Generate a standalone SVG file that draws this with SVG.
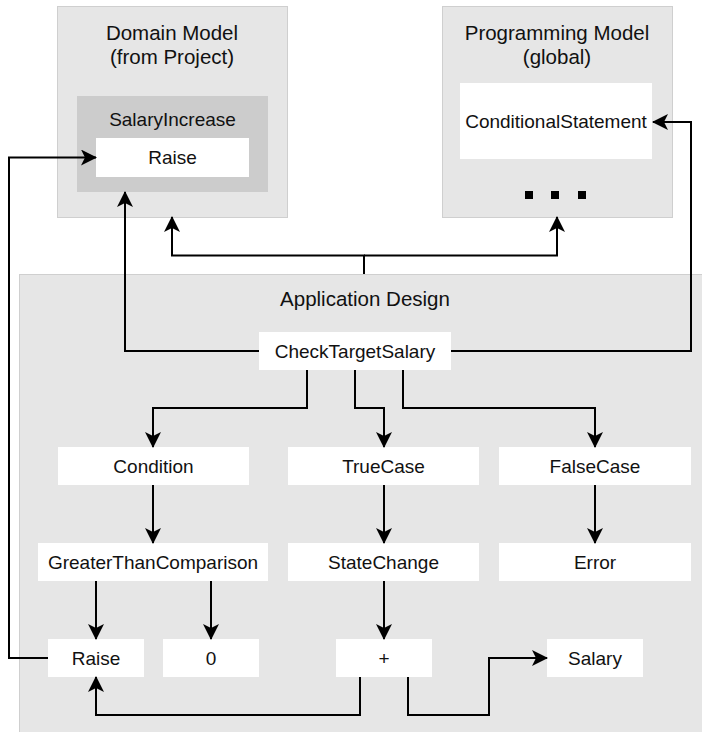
<svg xmlns="http://www.w3.org/2000/svg" width="702" height="732" viewBox="0 0 702 732">
<style>
.bg{fill:#ffffff}
.frame{fill:#e6e6e6;stroke:#cfcfcf;stroke-width:1}
.inner{fill:#cccccc}
.node{fill:#ffffff}
.t{font-family:"Liberation Sans",Arial,sans-serif;font-size:19px;fill:#111;text-anchor:middle}
.title{font-family:"Liberation Sans",Arial,sans-serif;font-size:20.5px;fill:#111;text-anchor:middle}
.edge{fill:none;stroke:#000;stroke-width:2}
</style>
<defs>
<marker id="arr" markerUnits="userSpaceOnUse" viewBox="0 0 16 16" refX="15" refY="8" markerWidth="16" markerHeight="16" orient="auto">
<path d="M0,0 L16,8 L0,16 L4,8 Z" fill="#000"/>
</marker>
</defs>
<rect class="bg" x="0" y="0" width="702" height="732"/>

<g id="domain-model">
<rect class="frame" x="57.5" y="6.5" width="230" height="211"/>
<text class="title" x="172" y="40">Domain Model</text>
<text class="title" x="172" y="64">(from Project)</text>
</g>
<g id="salary-increase">
<rect class="inner" x="77" y="96" width="191" height="96"/>
<text class="t" x="172.5" y="126">SalaryIncrease</text>
</g>
<g id="raise-domain">
<rect class="node" x="96" y="138" width="153" height="39"/>
<text class="t" x="172.5" y="164">Raise</text>
</g>

<g id="programming-model">
<rect class="frame" x="442.5" y="6.5" width="230" height="211"/>
<text class="title" x="557" y="40">Programming Model</text>
<text class="title" x="557" y="64">(global)</text>
<rect x="525" y="191" width="8" height="8" fill="#000"/>
<rect x="551" y="191" width="8" height="8" fill="#000"/>
<rect x="578" y="191" width="8" height="8" fill="#000"/>
</g>
<g id="conditional-statement">
<rect class="node" x="460" y="83" width="192" height="76"/>
<text class="t" x="556" y="128">ConditionalStatement</text>
</g>

<g id="application-design">
<rect class="frame" x="19.5" y="274.5" width="690" height="470"/>
<text class="title" x="365" y="306">Application Design</text>
</g>
<g id="check-target-salary">
<rect class="node" x="259" y="332" width="192" height="38"/>
<text class="t" x="355" y="358">CheckTargetSalary</text>
</g>
<g id="condition">
<rect class="node" x="58" y="447" width="191" height="38"/>
<text class="t" x="153.5" y="473">Condition</text>
</g>
<g id="true-case">
<rect class="node" x="288" y="447" width="191" height="38"/>
<text class="t" x="383.5" y="473">TrueCase</text>
</g>
<g id="false-case">
<rect class="node" x="499" y="447" width="192" height="38"/>
<text class="t" x="595" y="473">FalseCase</text>
</g>
<g id="greater-than-comparison">
<rect class="node" x="38" y="543" width="230" height="38"/>
<text class="t" x="153" y="569">GreaterThanComparison</text>
</g>
<g id="state-change">
<rect class="node" x="288" y="543" width="191" height="38"/>
<text class="t" x="383.5" y="569">StateChange</text>
</g>
<g id="error">
<rect class="node" x="499" y="543" width="192" height="38"/>
<text class="t" x="595" y="569">Error</text>
</g>
<g id="raise-app">
<rect class="node" x="48" y="639" width="96" height="38"/>
<text class="t" x="96" y="665">Raise</text>
</g>
<g id="zero">
<rect class="node" x="163" y="639" width="96" height="38"/>
<text class="t" x="211" y="665">0</text>
</g>
<g id="plus">
<rect class="node" x="336" y="639" width="96" height="38"/>
<text class="t" x="384" y="665">+</text>
</g>
<g id="salary">
<rect class="node" x="547" y="639" width="96" height="38"/>
<text class="t" x="595" y="665">Salary</text>
</g>

<g id="connectors">
<path class="edge" d="M364,274 V255.5 H172 V217" marker-end="url(#arr)"/>
<path class="edge" d="M364,255.5 H557 V217" marker-end="url(#arr)"/>
<path class="edge" d="M259,351 H125 V192" marker-end="url(#arr)"/>
<path class="edge" d="M451,351 H691 V122 H653" marker-end="url(#arr)"/>
<path class="edge" d="M307,370 V408 H153 V447" marker-end="url(#arr)"/>
<path class="edge" d="M355,370 V408 H384 V447" marker-end="url(#arr)"/>
<path class="edge" d="M403,370 V408 H595 V447" marker-end="url(#arr)"/>
<path class="edge" d="M153,485 V543" marker-end="url(#arr)"/>
<path class="edge" d="M384,485 V543" marker-end="url(#arr)"/>
<path class="edge" d="M595,485 V543" marker-end="url(#arr)"/>
<path class="edge" d="M96,581 V639" marker-end="url(#arr)"/>
<path class="edge" d="M211,581 V639" marker-end="url(#arr)"/>
<path class="edge" d="M384,581 V639" marker-end="url(#arr)"/>
<path class="edge" d="M360,677 V715 H96 V677" marker-end="url(#arr)"/>
<path class="edge" d="M408,677 V715 H489 V658 H547" marker-end="url(#arr)"/>
<path class="edge" d="M48,658 H9 V157.5 H96" marker-end="url(#arr)"/>
</g>
</svg>
